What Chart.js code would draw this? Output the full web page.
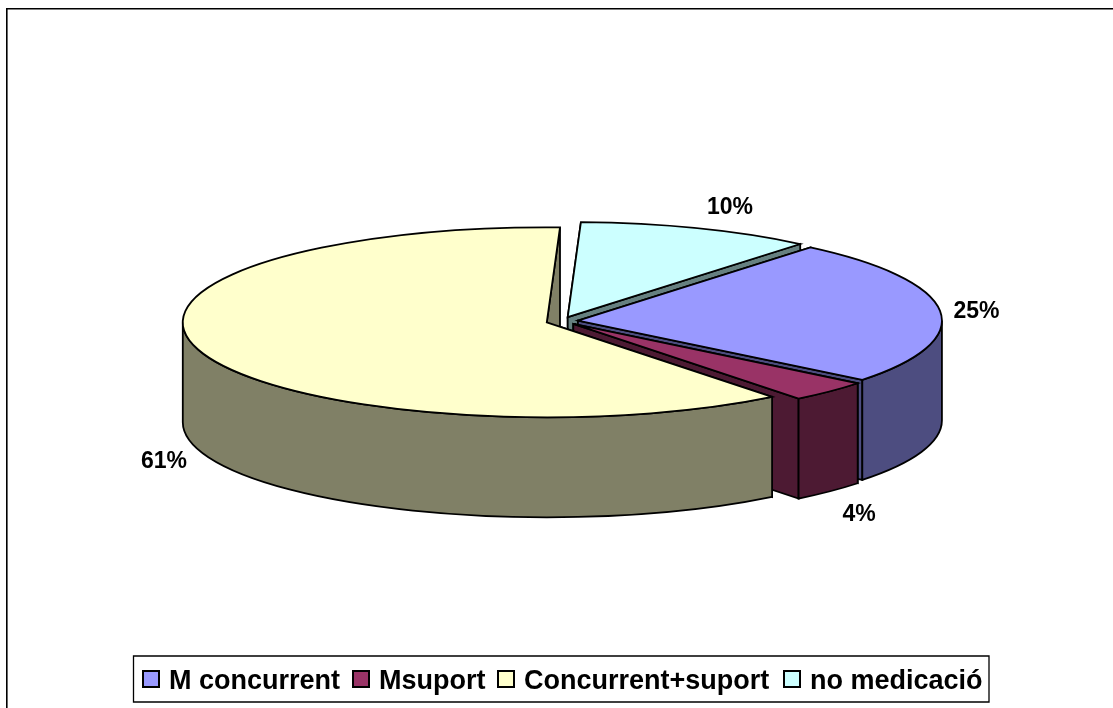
<!DOCTYPE html>
<html>
<head>
<meta charset="utf-8">
<style>html,body{margin:0;padding:0;background:#fff}canvas{display:block}</style>
<script src="https://cdn.jsdelivr.net/npm/chart.js@4/dist/chart.umd.min.js"></script>
</head>
<body>
<canvas id="c" width="1113" height="708"></canvas>
<script>
const categories = ['M concurrent', 'Msuport', 'Concurrent+suport', 'no medicació'];
const shares = [24.7, 3.65, 61.2, 10.45];
const topColors = ['#9999FF', '#993366', '#FFFFCC', '#CCFFFF'];
const sideColors = ['#4D4D80', '#4D1A33', '#808066', '#668080'];

const SQUASH = 95 / 364, DEPTH = 100, LINE = 1.8;
const FONT = 'bold 27px "Liberation Sans", Arial, sans-serif';
const LABEL_FONT = 'bold 23px "Liberation Sans", Arial, sans-serif';
const labelCentres = [[976.5, 311.5], [859, 514.5], [164, 461.5], [730, 207.5]];
const swatchLefts = [142, 352, 497, 783];
const drawOrder = [3, 0, 1, 2];

const pie3d = {
  id: 'pie3d',
  beforeDatasetDraw(chart, args) {
    const ctx = chart.ctx;
    const arcs = chart.getDatasetMeta(args.index).data;
    ctx.save();
    ctx.lineWidth = LINE;
    ctx.lineJoin = 'miter';
    ctx.miterLimit = 12;
    ctx.strokeStyle = '#000';
    drawOrder.forEach(i => {
      const a = arcs[i];
      const mid = (a.startAngle + a.endAngle) / 2;
      const off = a.options.offset / 4;
      const rx = a.outerRadius, ry = rx * SQUASH;
      const cx = a.x + Math.cos(mid) * off;
      const cy = a.y + Math.sin(mid) * off * SQUASH;
      const px = t => cx + Math.cos(t) * rx;
      const py = t => cy + Math.sin(t) * ry;
      const paint = fill => { ctx.fillStyle = fill; ctx.fill(); ctx.stroke(); };
      // cut faces
      [a.startAngle, a.endAngle].forEach(t => {
        ctx.beginPath();
        ctx.moveTo(cx, cy);
        ctx.lineTo(px(t), py(t));
        ctx.lineTo(px(t), py(t) + DEPTH);
        ctx.lineTo(cx, cy + DEPTH);
        ctx.closePath();
        paint(sideColors[i]);
      });
      // outer rim, front half only
      for (let k = -1; k <= 1; k++) {
        const lo = Math.max(a.startAngle, k * 2 * Math.PI);
        const hi = Math.min(a.endAngle, k * 2 * Math.PI + Math.PI);
        if (hi <= lo) continue;
        ctx.beginPath();
        ctx.ellipse(cx, cy, rx, ry, 0, lo, hi);
        ctx.ellipse(cx, cy + DEPTH, rx, ry, 0, hi, lo, true);
        ctx.closePath();
        paint(sideColors[i]);
      }
      // top
      ctx.beginPath();
      ctx.moveTo(cx, cy);
      ctx.ellipse(cx, cy, rx, ry, 0, a.startAngle, a.endAngle);
      ctx.closePath();
      paint(a.options.backgroundColor);
    });
    ctx.restore();
    return false;
  },
  afterDraw(chart) {
    const ctx = chart.ctx;
    ctx.save();
    // frame: top and left edges only
    ctx.fillStyle = '#000';
    ctx.fillRect(6, 8, 1107, 1.5);
    ctx.fillRect(6, 8, 1.6, 700);
    // percentage labels
    ctx.font = LABEL_FONT;
    ctx.textAlign = 'center';
    ctx.textBaseline = 'middle';
    shares.forEach((v, i) => ctx.fillText(Math.round(v) + '%', labelCentres[i][0], labelCentres[i][1]));
    // legend
    ctx.fillStyle = '#fff';
    ctx.strokeStyle = '#000';
    ctx.lineWidth = 1.3;
    ctx.beginPath();
    ctx.rect(133.5, 656, 855.5, 46);
    ctx.fill();
    ctx.stroke();
    ctx.font = FONT;
    ctx.textAlign = 'left';
    categories.forEach((name, i) => {
      const x = swatchLefts[i];
      ctx.fillStyle = topColors[i];
      ctx.lineWidth = 2;
      ctx.beginPath();
      ctx.rect(x + 1, 671, 16, 16);
      ctx.fill();
      ctx.stroke();
      ctx.fillStyle = '#000';
      ctx.fillText(name, x + 27, 681.5);
    });
    ctx.restore();
  }
};

new Chart(document.getElementById('c'), {
  type: 'pie',
  data: {
    labels: categories,
    datasets: [{ data: shares, backgroundColor: topColors, borderColor: '#000', offset: 64 }]
  },
  options: {
    responsive: false,
    animation: false,
    rotation: 39.7,
    radius: 364,
    layout: { padding: { left: 11, top: 0, right: 0, bottom: 66 } },
    plugins: { legend: { display: false }, tooltip: { enabled: false } }
  },
  plugins: [pie3d]
});
</script>
</body>
</html>
